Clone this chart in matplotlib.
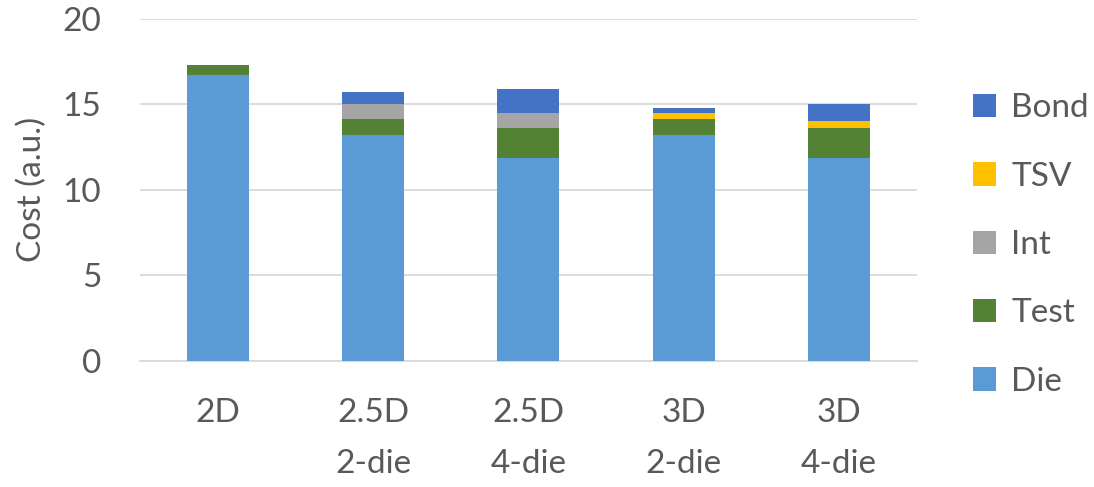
import numpy as np
import matplotlib.pyplot as plt

plt.rcParams['font.family'] = ['Lato', 'DejaVu Sans']

# cost breakdown per integration option
configs = ["2D", "2.5D\n2-die", "2.5D\n4-die", "3D\n2-die", "3D\n4-die"]
die  = [16.7, 13.2, 11.85, 13.2, 11.85]
test = [0.6, 0.95, 1.8, 0.95, 1.8]
intp = [0.0, 0.9, 0.85, 0.0, 0.0]
tsv  = [0.0, 0.0, 0.0, 0.33, 0.4]
bond = [0.0, 0.65, 1.4, 0.33, 1.0]

series = [("Die", die, "#5B9BD5"),
          ("Test", test, "#548235"),
          ("Int", intp, "#A5A5A5"),
          ("TSV", tsv, "#FFC000"),
          ("Bond", bond, "#4472C4")]

text_col = "#595959"
fs = 24

fig = plt.figure(figsize=(10.94, 4.87), dpi=100)
ax = fig.add_axes([0.128, 0.259, 0.710, 0.702])

x = np.arange(len(configs))
bottom = np.zeros(len(configs))
handles = []
for name, vals, col in series:
    h = ax.bar(x, vals, width=0.4, bottom=bottom, color=col, label=name, zorder=3)
    handles.append(h)
    bottom += np.array(vals)

ax.set_xlim(-0.5, 4.5)
ax.set_ylim(0, 20)
ax.set_yticks([0, 5, 10, 15, 20])
ax.yaxis.grid(True, color="#D9D9D9", linewidth=1.3, zorder=0)
ax.set_axisbelow(True)
for s in ["top", "right", "left"]:
    ax.spines[s].set_visible(False)
ax.spines["bottom"].set_color("#D9D9D9")
ax.spines["bottom"].set_linewidth(1.3)
ax.tick_params(axis="both", length=0, labelsize=fs, colors=text_col)
ax.tick_params(axis="y", pad=28)
ax.tick_params(axis="x", pad=27)
ax.set_xticks(x)
ax.set_xticklabels(configs, linespacing=1.85)
ax.set_ylabel("Cost (a.u.)", fontsize=fs, color=text_col, labelpad=11)

leg = fig.legend(handles[::-1], [s[0] for s in series][::-1],
                 loc="center left", bbox_to_anchor=(0.862, 0.497),
                 frameon=False, fontsize=fs, handlelength=0.7, handleheight=0.7,
                 handletextpad=0.45, labelspacing=1.15)
for t in leg.get_texts():
    t.set_color(text_col)

fig.savefig("out.png", dpi=100)
